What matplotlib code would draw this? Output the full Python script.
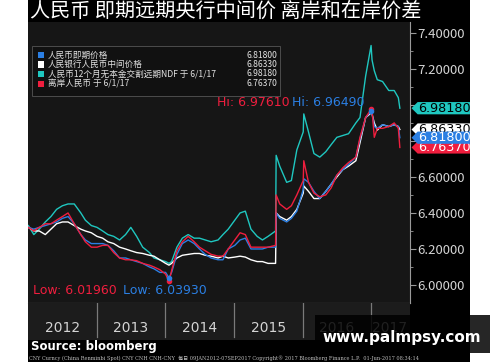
import matplotlib
matplotlib.use("Agg")
import matplotlib.pyplot as plt
import matplotlib.dates as mdates
import matplotlib.transforms as mtransforms
from matplotlib.patches import Rectangle, Polygon
import numpy as np
import pandas as pd

plt.rcParams['font.family'] = ['Noto Sans CJK SC', 'DejaVu Sans']

# ---- data ----
dates = [
    "2012-01-03", "2012-02-01", "2012-03-01", "2012-04-02", "2012-05-02", "2012-06-01",
    "2012-07-02", "2012-08-01", "2012-09-03", "2012-10-08", "2012-11-01", "2012-12-03",
    "2013-01-02", "2013-02-01", "2013-03-01", "2013-04-01", "2013-05-02", "2013-06-03",
    "2013-07-01", "2013-08-01", "2013-09-02", "2013-10-08", "2013-11-01", "2013-12-02",
    "2014-01-02", "2014-01-20", "2014-02-03", "2014-03-03", "2014-04-01", "2014-05-02",
    "2014-06-03", "2014-07-01", "2014-08-01", "2014-09-01", "2014-10-08", "2014-11-03",
    "2014-12-01",
    "2015-01-05", "2015-02-02", "2015-03-02", "2015-04-01", "2015-05-04", "2015-06-01",
    "2015-07-01", "2015-08-10", "2015-08-13", "2015-09-01", "2015-10-08", "2015-11-02",
    "2015-12-01",
    "2016-01-04", "2016-01-07", "2016-02-01", "2016-03-01", "2016-04-01", "2016-05-03",
    "2016-06-01", "2016-07-01", "2016-08-01", "2016-09-01", "2016-10-10", "2016-11-01",
    "2016-12-01", "2016-12-30",
    "2017-01-04", "2017-01-16", "2017-02-01", "2017-03-01", "2017-04-03", "2017-05-02",
    "2017-05-24", "2017-06-01",
]

ndf_12m = [  # cyan
    6.33, 6.28, 6.31, 6.35, 6.38, 6.42, 6.44, 6.45, 6.45, 6.40, 6.36, 6.33,
    6.32, 6.30, 6.28, 6.27, 6.25, 6.28, 6.32, 6.27, 6.21, 6.18, 6.15, 6.14,
    6.13, 6.12, 6.13, 6.21, 6.26, 6.28, 6.26, 6.26, 6.25, 6.24, 6.25, 6.28, 6.31,
    6.36, 6.40, 6.41, 6.31, 6.27, 6.25, 6.27, 6.30, 6.72, 6.66, 6.57, 6.58, 6.75,
    6.85, 6.95, 6.85, 6.73, 6.71, 6.74, 6.78, 6.82, 6.83, 6.84, 6.90, 6.93, 7.16, 7.33,
    7.25, 7.19, 7.14, 7.13, 7.08, 7.08, 7.04, 6.9818,
]
pboc_fixing = [  # white
    6.32, 6.30, 6.30, 6.28, 6.31, 6.34, 6.35, 6.35, 6.33, 6.31, 6.30, 6.29,
    6.27, 6.26, 6.24, 6.23, 6.21, 6.20, 6.19, 6.18, 6.175, 6.165, 6.16, 6.14,
    6.12, 6.11, 6.12, 6.15, 6.165, 6.17, 6.175, 6.175, 6.165, 6.16, 6.15, 6.16, 6.15,
    6.155, 6.16, 6.155, 6.14, 6.13, 6.13, 6.12, 6.12, 6.40, 6.38, 6.36, 6.38, 6.42,
    6.51, 6.55, 6.52, 6.48, 6.48, 6.52, 6.56, 6.60, 6.64, 6.66, 6.69, 6.79, 6.93, 6.955,
    6.95, 6.90, 6.86, 6.89, 6.88, 6.89, 6.88, 6.8633,
]
cny_spot = [  # blue
    6.32, 6.31, 6.32, 6.33, 6.34, 6.35, 6.37, 6.38, 6.34, 6.28, 6.25, 6.23,
    6.23, 6.23, 6.22, 6.19, 6.15, 6.15, 6.14, 6.13, 6.12, 6.10, 6.09, 6.07,
    6.07, 6.0393, 6.07, 6.17, 6.23, 6.25, 6.23, 6.20, 6.17, 6.15, 6.14, 6.14, 6.20,
    6.22, 6.25, 6.26, 6.20, 6.20, 6.20, 6.21, 6.21, 6.40, 6.37, 6.35, 6.37, 6.41,
    6.53, 6.59, 6.57, 6.52, 6.48, 6.52, 6.56, 6.61, 6.64, 6.67, 6.71, 6.81, 6.93, 6.9649,
    6.95, 6.88, 6.87, 6.89, 6.88, 6.89, 6.88, 6.818,
]
cnh = [  # red
    6.32, 6.30, 6.32, 6.34, 6.34, 6.36, 6.38, 6.40, 6.34, 6.28, 6.24, 6.21,
    6.21, 6.22, 6.22, 6.18, 6.15, 6.14, 6.14, 6.135, 6.12, 6.11, 6.10, 6.085,
    6.06, 6.0196, 6.08, 6.19, 6.24, 6.27, 6.24, 6.21, 6.19, 6.17, 6.16, 6.16, 6.20,
    6.25, 6.29, 6.28, 6.21, 6.21, 6.21, 6.21, 6.22, 6.50, 6.45, 6.42, 6.44, 6.50,
    6.58, 6.69, 6.57, 6.51, 6.49, 6.50, 6.54, 6.61, 6.65, 6.68, 6.71, 6.82, 6.93, 6.9761,
    6.97, 6.82, 6.87, 6.87, 6.88, 6.90, 6.87, 6.7637,
]

legend_labels = [
    "人民币即期价格",
    "人民银行人民币中间价格",
    "人民币12个月无本金交割远期NDF 于 6/1/17",
    "离岸人民币 于 6/1/17",
]
years = [2012, 2013, 2014, 2015, 2016, 2017]
yticks = [6.0, 6.1, 6.2, 6.3, 6.4, 6.5, 6.6, 6.7, 6.8, 6.9, 7.0, 7.1, 7.2, 7.3, 7.4]

title = "人民币 即期远期央行中间价 离岸和在岸价差"
footer = ("CNY Curncy (China Renminbi Spot) CNY CNH CNH-CNY  每日 09JAN2012-07SEP2017 "
          "Copyright\u00ae 2017 Bloomberg Finance L.P.  01-Jun-2017 08:34:14")

BLUE = "#2b7fe3"
WHITE = "#ffffff"
CYAN = "#1fc7c0"
RED = "#f01e3e"
TXT = "#d4d4d4"

x = pd.to_datetime(dates)
series = [cny_spot, pboc_fixing, ndf_12m, cnh]
colors = [BLUE, WHITE, CYAN, RED]

fig = plt.figure(figsize=(5, 3.62), dpi=100, facecolor="white")
fig.patches.append(Rectangle((0.056, 0), 0.884, 1, transform=fig.transFigure,
                             fc="#000000", ec="none", zorder=-10))

ax = fig.add_axes([0.056, 0.163, 0.764, 0.776])
ax.set_facecolor("#161616")

ax.plot(x, ndf_12m, color=CYAN, lw=1.0, zorder=3)
ax.plot(x, pboc_fixing, color=WHITE, lw=1.0, zorder=4)
ax.plot(x, cny_spot, color=BLUE, lw=1.0, zorder=5)
ax.plot(x, cnh, color=RED, lw=1.0, zorder=6)

# hi / low dots
for vals, c in [(cnh, RED), (cny_spot, BLUE)]:
    i_hi, i_lo = int(np.argmax(vals)), int(np.argmin(vals))
    ax.plot([x[i_hi], x[i_lo]], [vals[i_hi], vals[i_lo]], "o", ms=3, color=c, zorder=7)

ax.set_xlim(pd.Timestamp("2012-01-01"), pd.Timestamp("2017-07-25"))
ax.set_ylim(5.9, 7.46)

for s in ["top", "left"]:
    ax.spines[s].set_visible(False)
for s in ["bottom", "right"]:
    ax.spines[s].set_color("#9a9a9a")
    ax.spines[s].set_linewidth(0.8)

ax.xaxis.set_visible(False)
ax.yaxis.tick_right()
major = [v for v in yticks if round(v * 10) % 2 == 0]
minor = [v for v in yticks if round(v * 10) % 2 == 1]
ax.set_yticks(major)
ax.set_yticklabels(["" if v in (6.8, 7.0) else f"{v:.5f}" for v in major])
ax.set_yticks(minor, minor=True)
ax.tick_params(axis="y", which="major", direction="out", length=4, width=0.8,
               color="#9a9a9a", labelcolor=TXT, labelsize=9.5, pad=1)
ax.tick_params(axis="y", which="minor", direction="out", length=2.5, width=0.6,
               color="#9a9a9a")

# right-hand value tags (small arrow-shaped labels on the axis)
trans = mtransforms.blended_transform_factory(ax.transAxes, ax.transData)
tag_order = [(2, "black"), (1, "black"), (3, "white"), (0, "white")]
h = 0.034
for k, (idx, tc) in enumerate(tag_order):
    v = series[idx][-1]
    poly = Polygon([(1.004, v), (1.02, v + h), (1.157, v + h), (1.157, v - h),
                    (1.02, v - h)], closed=True, transform=trans, fc=colors[idx],
                   ec="none", clip_on=False, zorder=10 + 2 * k)
    ax.add_patch(poly)
    ax.text(1.022, v, f"{v:.5f}", transform=trans, color=tc, fontsize=9.2,
            va="center", ha="left", clip_on=False, zorder=11 + 2 * k,
            family="DejaVu Sans")

# hi / low labels
ax.text(0.686, 0.715, f"Hi: {max(cnh):.5f}", transform=ax.transAxes, color=RED,
        fontsize=9, ha="right", va="center", family="DejaVu Sans")
ax.text(0.690, 0.715, f"Hi: {max(cny_spot):.5f}", transform=ax.transAxes, color=BLUE,
        fontsize=9, ha="left", va="center", family="DejaVu Sans")
ax.text(0.012, 0.046, f"Low: {min(cnh):.5f}", transform=ax.transAxes, color=RED,
        fontsize=9, ha="left", va="center", family="DejaVu Sans")
ax.text(0.248, 0.046, f"Low: {min(cny_spot):.5f}", transform=ax.transAxes, color=BLUE,
        fontsize=9, ha="left", va="center", family="DejaVu Sans")

# year band under the plot
axb = fig.add_axes([0.056, 0.061, 0.764, 0.102])
axb.set_xlim(ax.get_xlim())
axb.set_ylim(0, 1)
axb.axis("off")
axb.add_patch(Rectangle((0, 0), 1, 1, transform=axb.transAxes, fc="#1c1c1c", ec="none"))
for y in years[1:]:
    axb.axvline(mdates.date2num(pd.Timestamp(f"{y}-01-01")), ymin=0.08, ymax=1,
                color="#7a7a7a", lw=0.9)
for y in years:
    if y < 2017:
        xc = pd.Timestamp(f"{y}-07-02")
    else:
        xc = pd.Timestamp("2017-04-05")
    axb.text(mdates.date2num(xc), 0.32, str(y), color=TXT, fontsize=10,
             ha="center", va="center", family="DejaVu Sans")

# legend box
fig.patches.append(Rectangle((0.064, 0.735), 0.496, 0.138, transform=fig.transFigure,
                             fc="#111111", ec="#555555", lw=0.6, zorder=5))
row_y = [0.848, 0.822, 0.796, 0.769]
for lab, idx, ry in zip(legend_labels, [0, 1, 2, 3], row_y):
    fig.patches.append(Rectangle((0.076, ry - 0.0085), 0.012, 0.017,
                                 transform=fig.transFigure, fc=colors[idx],
                                 ec="none", zorder=6))
    fig.text(0.096, ry, lab, color="#e2e2e2", fontsize=6.2, va="center", ha="left",
             zorder=6)
    fig.text(0.554, ry, f"{series[idx][-1]:.5f}", color="#e2e2e2", fontsize=6.2,
             va="center", ha="right", zorder=6)

# title, source, footer
fig.text(0.060, 0.968, title, color="white", fontsize=14.5, va="center", ha="left")
fig.text(0.062, 0.042, "Source: bloomberg", color="white", fontsize=8.5,
         fontweight="bold", va="center", ha="left", family="DejaVu Sans")
fig.text(0.058, 0.011, footer, color="#bdbdbd", fontsize=3.6, va="center", ha="left",
         family=["DejaVu Serif", "Noto Sans CJK SC"])

# watermark
fig.patches.append(Rectangle((0.63, 0.025), 0.35, 0.105, transform=fig.transFigure,
                             fc="black", ec="none", alpha=0.85, zorder=20))
fig.text(0.804, 0.069, "www.palmpsy.com", color="white", fontsize=11,
         fontweight="bold", va="center", ha="center", family="DejaVu Sans", zorder=21)

fig.savefig("out.png", dpi=100, facecolor="white")
